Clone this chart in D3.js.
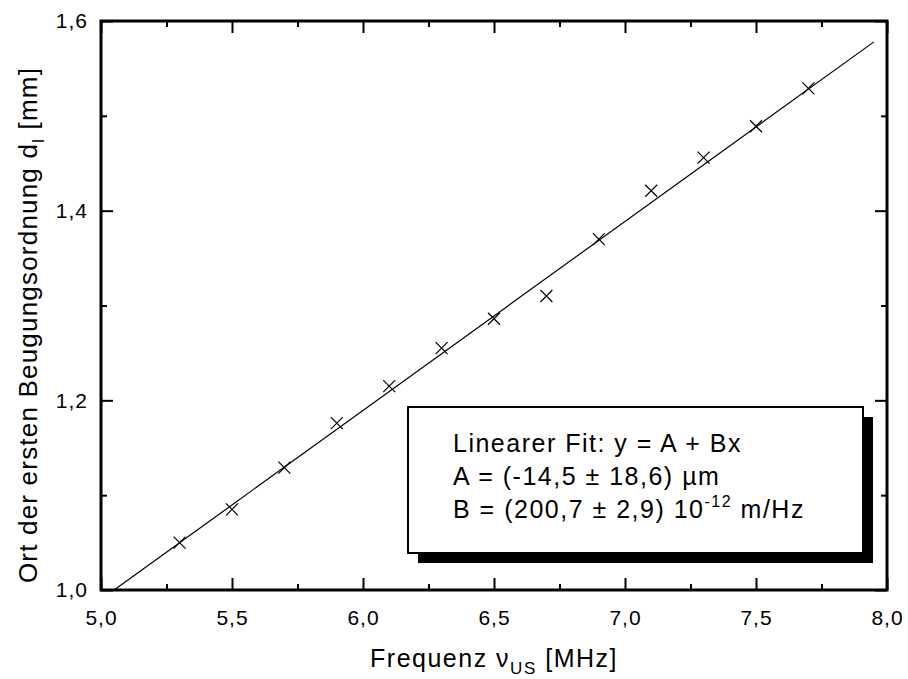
<!DOCTYPE html>
<html>
<head>
<meta charset="utf-8">
<script src="https://cdn.jsdelivr.net/npm/d3@7"></script>
<style>
  body { margin: 0; background: #fff; }
  svg { font-family: Arial, "Liberation Sans", sans-serif; }
</style>
</head>
<body>
<div id="plot"></div>
<script>
// measured points (frequency in MHz, position in mm)
const freq = [5.3, 5.5, 5.7, 5.9, 6.1, 6.3, 6.5, 6.7, 6.9, 7.1, 7.3, 7.5, 7.7]
const pos = [1.050, 1.085, 1.129, 1.176, 1.215, 1.255, 1.286, 1.310, 1.370, 1.421, 1.456, 1.489, 1.529]
// fit line
const fitX = [5.05, 7.95]
const fitY = [1.0, 1.578]
const xTicks = [5.0, 5.5, 6.0, 6.5, 7.0, 7.5, 8.0]
const yTicks = [1.0, 1.2, 1.4, 1.6]
const legendLines = ["Linearer Fit: y = A + Bx", "A = (-14,5 \u00b1 18,6) \u00b5m", "B = (200,7 \u00b1 2,9) 10"]

const w = 908, h = 679,
    margin = {top: 21, right: 21, bottom: 89, left: 101},
    x = d3.scaleLinear().domain([5, 8]).range([margin.left, w - margin.right]),
    y = d3.scaleLinear().domain([1.0, 1.6]).range([h - margin.bottom, margin.top])

const fmt = d => d.toFixed(1).replace(".", ",")

const svg = d3.select("#plot").append("svg")
  .attr("width", w)
  .attr("height", h)

// minor ticks halfway between majors
const xMinor = d3.range(5.25, 8, 0.5)
const yMinor = d3.range(1.1, 1.6, 0.2)

const axisStyle = (g) => {
  g.select(".domain").remove()
  g.selectAll(".tick line").attr("stroke", "#000").attr("stroke-width", 2)
  g.selectAll(".tick text").attr("fill", "#000").attr("font-size", 21).attr("letter-spacing", 1)
}

// bottom
svg.append("g")
  .attr("transform", `translate(0, ${y(1.0)})`)
  .call(d3.axisBottom(x).tickValues(xTicks).tickFormat(fmt).tickSizeInner(-12).tickSizeOuter(0).tickPadding(20))
  .call(axisStyle)
svg.append("g")
  .attr("transform", `translate(0, ${y(1.0)})`)
  .call(d3.axisBottom(x).tickValues(xMinor).tickFormat("").tickSizeInner(-6).tickSizeOuter(0))
  .call(axisStyle)
// top
svg.append("g")
  .attr("transform", `translate(0, ${y(1.6)})`)
  .call(d3.axisTop(x).tickValues(xTicks).tickFormat("").tickSizeInner(-12).tickSizeOuter(0))
  .call(axisStyle)
svg.append("g")
  .attr("transform", `translate(0, ${y(1.6)})`)
  .call(d3.axisTop(x).tickValues(xMinor).tickFormat("").tickSizeInner(-6).tickSizeOuter(0))
  .call(axisStyle)
// left
svg.append("g")
  .attr("transform", `translate(${x(5)}, 0)`)
  .call(d3.axisLeft(y).tickValues(yTicks).tickFormat(fmt).tickSizeInner(-12).tickSizeOuter(0).tickPadding(13))
  .call(axisStyle)
svg.append("g")
  .attr("transform", `translate(${x(5)}, 0)`)
  .call(d3.axisLeft(y).tickValues(yMinor).tickFormat("").tickSizeInner(-6).tickSizeOuter(0))
  .call(axisStyle)
// right
svg.append("g")
  .attr("transform", `translate(${x(8)}, 0)`)
  .call(d3.axisRight(y).tickValues(yTicks).tickFormat("").tickSizeInner(-12).tickSizeOuter(0))
  .call(axisStyle)
svg.append("g")
  .attr("transform", `translate(${x(8)}, 0)`)
  .call(d3.axisRight(y).tickValues(yMinor).tickFormat("").tickSizeInner(-6).tickSizeOuter(0))
  .call(axisStyle)

// frame
svg.append("rect")
  .attr("x", x(5))
  .attr("y", y(1.6))
  .attr("width", x(8) - x(5))
  .attr("height", y(1.0) - y(1.6))
  .attr("fill", "none")
  .attr("stroke", "#000")
  .attr("stroke-width", 3)

// fit line
svg.append("path")
  .datum(d3.zip(fitX, fitY))
  .attr("fill", "none")
  .attr("stroke", "#000")
  .attr("stroke-width", 1.2)
  .attr("d", d3.line().x(d => x(d[0])).y(d => y(d[1])))

// crosses
const s = 6
svg.append("g").selectAll("path")
  .data(d3.zip(freq, pos))
  .join("path")
  .attr("fill", "none")
  .attr("stroke", "#000")
  .attr("stroke-width", 1.2)
  .attr("d", d => {
    const cx = x(d[0]), cy = y(d[1])
    return `M${cx - s},${cy - s}L${cx + s},${cy + s}M${cx - s},${cy + s}L${cx + s},${cy - s}`
  })

// legend box with shadow
const bx = 408, by = 407, bw = 455, bh = 146, sh = 10
svg.append("rect")
  .attr("x", bx + sh).attr("y", by + sh)
  .attr("width", bw).attr("height", bh)
  .attr("fill", "#000")
svg.append("rect")
  .attr("x", bx).attr("y", by)
  .attr("width", bw).attr("height", bh)
  .attr("fill", "#fff")
  .attr("stroke", "#000")
  .attr("stroke-width", 2)

const leg = svg.append("g").attr("font-size", 25).attr("letter-spacing", 1.5).attr("fill", "#000")
legendLines.forEach((t, i) => {
  const txt = leg.append("text")
    .attr("x", bx + 45)
    .attr("y", by + 45 + i * 33)
    .text(t)
  if (i === 2) {
    txt.append("tspan").attr("dy", -11).attr("font-size", 16).text("-12")
    txt.append("tspan").attr("dy", 11).text(" m/Hz")
  }
})

// axis titles
const xl = svg.append("text")
  .attr("x", x(6.5))
  .attr("y", 667)
  .attr("text-anchor", "middle")
  .attr("font-size", 25)
  .attr("letter-spacing", 1.5)
  .text("Frequenz \u03bd")
xl.append("tspan").attr("dy", 7).attr("font-size", 17).text("US")
xl.append("tspan").attr("dy", -7).text(" [MHz]")

const yl = svg.append("text")
  .attr("transform", `translate(37, 325) rotate(-90)`)
  .attr("text-anchor", "middle")
  .attr("font-size", 26)
  .attr("letter-spacing", 1.2)
  .text("Ort der ersten Beugungsordnung d")
yl.append("tspan").attr("dy", 7).attr("font-size", 17).text("l")
yl.append("tspan").attr("dy", -7).text(" [mm]")
</script>
</body>
</html>
